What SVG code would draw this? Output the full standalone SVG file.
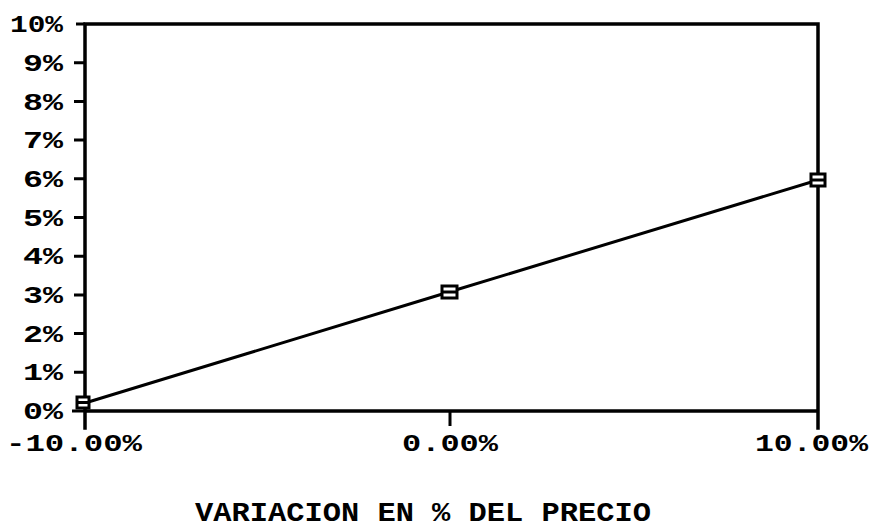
<svg xmlns="http://www.w3.org/2000/svg" width="873" height="528" viewBox="0 0 873 528">
<style>
.lbl{font-family:"Liberation Mono","DejaVu Sans Mono",monospace;font-weight:bold;fill:#000}
.y{font-size:24px;text-anchor:end}
.x{font-size:24px}
.t{font-size:28px}
.ax{stroke:#000;stroke-width:3.5;fill:none;stroke-linecap:square}
.tk{stroke:#000;stroke-width:3;fill:none}
.ln{stroke:#000;stroke-width:3;fill:none}
.mk{stroke:#000;stroke-width:3;fill:#fff}
</style>
<rect width="873" height="528" fill="#fff"/>
<g id="axes">
<path class="ax" d="M85,24 H818 V428 M85,24 V428 M85,411 H818"/>
<path class="tk" d="M72,411 H85 M74,372.3 H85 M74,333.6 H85 M74,294.9 H85 M74,256.2 H85 M74,217.5 H85 M74,178.8 H85 M74,140.1 H85 M74,101.4 H85 M74,62.7 H85 M76,24 H85 M450,411 V426"/>
</g>
<g id="y-labels" class="lbl y">
<text x="63" y="419" textLength="40" lengthAdjust="spacingAndGlyphs">0%</text>
<text x="63" y="380" textLength="40" lengthAdjust="spacingAndGlyphs">1%</text>
<text x="63" y="341.5" textLength="40" lengthAdjust="spacingAndGlyphs">2%</text>
<text x="63" y="303" textLength="40" lengthAdjust="spacingAndGlyphs">3%</text>
<text x="63" y="264" textLength="40" lengthAdjust="spacingAndGlyphs">4%</text>
<text x="63" y="225.5" textLength="40" lengthAdjust="spacingAndGlyphs">5%</text>
<text x="63" y="187" textLength="40" lengthAdjust="spacingAndGlyphs">6%</text>
<text x="63" y="148" textLength="40" lengthAdjust="spacingAndGlyphs">7%</text>
<text x="63" y="109.5" textLength="40" lengthAdjust="spacingAndGlyphs">8%</text>
<text x="63" y="71" textLength="40" lengthAdjust="spacingAndGlyphs">9%</text>
<text x="63" y="32" textLength="53" lengthAdjust="spacingAndGlyphs">10%</text>
</g>
<g id="x-labels" class="lbl x">
<text x="6" y="451" textLength="136" lengthAdjust="spacingAndGlyphs">-10.00%</text>
<text x="402" y="451" textLength="96" lengthAdjust="spacingAndGlyphs">0.00%</text>
<text x="755" y="451" textLength="113" lengthAdjust="spacingAndGlyphs">10.00%</text>
</g>
<g id="title" class="lbl t">
<text x="195" y="521" textLength="456" lengthAdjust="spacingAndGlyphs">VARIACION EN % DEL PRECIO</text>
</g>
<g id="connectors">
<polyline class="ln" points="85,403 449,292 818,180"/>
</g>
<g id="point-1"><rect class="mk" x="77" y="397" width="12" height="11"/><path class="tk" d="M77,402.5 H89"/></g>
<g id="point-2"><rect class="mk" x="442" y="286" width="15" height="12"/><path class="tk" d="M442,292 H457"/></g>
<g id="point-3"><rect class="mk" x="811" y="174" width="14" height="12"/><path class="tk" d="M811,180 H825"/></g>
</svg>
